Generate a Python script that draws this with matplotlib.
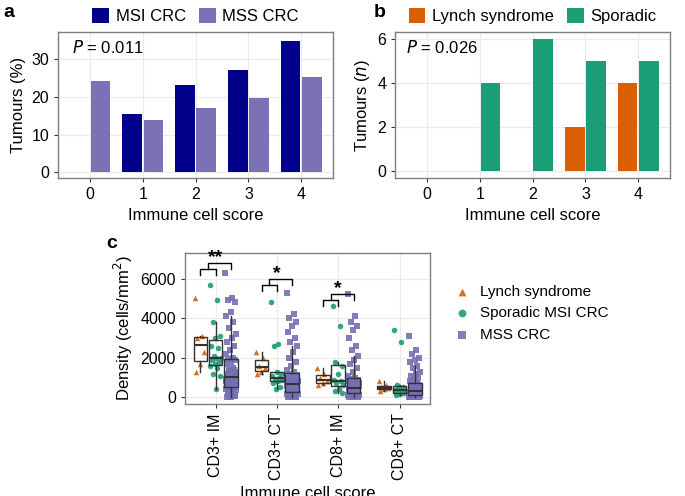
import matplotlib
matplotlib.use("Agg")
import matplotlib.pyplot as plt
import numpy as np

plt.rcParams['font.family'] = ['Liberation Sans', 'DejaVu Sans']

scores = [0, 1, 2, 3, 4]
msi_pct = [0, 15.4, 23.1, 26.9, 34.6]
mss_pct = [24.2, 13.9, 17.0, 19.7, 25.1]
lynch_n = [0, 0, 0, 2, 4]
sporadic_n = [0, 4, 6, 5, 5]

markers = ['CD3+ IM', 'CD3+ CT', 'CD8+ IM', 'CD8+ CT']
lynch_dens = [
    [5000, 3100, 3000, 2300, 1700, 1300],
    [2300, 2000, 1600, 1500, 1300, 1200],
    [1500, 1200, 1000, 800, 700, 600],
    [800, 600, 500, 450, 400, 300],
]
sporadic_dens = [
    [5700, 4900, 3800, 3100, 3000, 2600, 2500, 2100, 2000, 2000, 1900, 1800, 1700, 1600, 1500, 1200, 1100, 400],
    [4800, 2700, 2600, 1200, 1300, 1100, 1000, 900, 900, 800, 700, 500, 400],
    [4600, 3600, 1800, 1600, 1200, 900, 800, 700, 600, 400, 300, 200],
    [3400, 2800, 600, 500, 400, 350, 300, 250, 200, 150, 100],
]
mss_dens = [
    [6300, 5000, 4900, 4800, 4300, 4100, 3800, 3500, 3200, 3000, 2800, 2600, 2400, 2200, 2000, 1950, 1900, 1800,
     1700, 1400, 1350, 1300, 1250, 1200, 1100, 1000, 950, 900, 850, 800, 750, 700, 600, 500, 400, 300, 200, 100, 50, 20,
     1500, 1400, 1300, 1200, 1100, 1000, 900, 800, 700, 650, 600, 550, 500, 450, 400, 350, 250, 150, 80, 30],
    [5300, 4200, 4000, 3800, 3600, 3300, 3000, 2800, 2600, 2300, 2000, 1800, 1600, 1400, 1300, 1200, 1150, 1100,
     1000, 900, 850, 800, 750, 700, 650, 600, 550, 500, 450, 400, 350, 300, 250, 200, 150, 100, 50, 30, 10, 5,
     1100, 1000, 900, 850, 800, 700, 650, 600, 500, 450, 400, 350, 300, 250, 200, 150, 100, 80, 50, 20],
    [5200, 4100, 3800, 3600, 3400, 3000, 2600, 2400, 2100, 1900, 1700, 1500, 1300, 1100, 1000, 950, 900, 850,
     800, 650, 600, 550, 500, 480, 450, 420, 400, 380, 350, 300, 280, 250, 200, 150, 120, 100, 60, 30, 10, 5,
     900, 800, 700, 650, 600, 550, 500, 450, 400, 350, 300, 250, 200, 180, 150, 120, 100, 80, 50, 20],
    [3100, 2400, 2200, 2000, 1900, 1800, 1600, 1500, 1300, 1200, 1100, 1000, 900, 800, 700, 650, 600, 550,
     500, 400, 380, 350, 320, 300, 280, 250, 220, 200, 180, 150, 130, 100, 80, 60, 40, 30, 20, 10, 5, 2,
     700, 600, 500, 450, 400, 350, 300, 250, 200, 180, 150, 120, 100, 80, 60, 50, 40, 30, 20, 10],
]

c_msi = '#00008b'
c_mss = '#7b72b6'
c_ly = '#d95f02'
c_sp = '#1b9e77'
c_ms = '#7570b3'
grid_c = '#ebebeb'
frame_c = '#7f7f7f'

fig = plt.figure(figsize=(6.85, 4.96), dpi=100)

def style(ax):
    ax.set_facecolor('white')
    ax.grid(True, color=grid_c, lw=0.8)
    ax.set_axisbelow(True)
    for s in ax.spines.values():
        s.set_color(frame_c)
        s.set_linewidth(1.0)
    ax.tick_params(colors='#333333', labelsize=11.5, length=3, labelcolor='black')

# panel a
axa = fig.add_axes([0.085, 0.641, 0.401, 0.294])
style(axa)
x = np.arange(len(scores))
w = 0.4
axa.bar(x - w / 2, msi_pct, w * 0.92, color=c_msi, label='MSI CRC')
axa.bar(x + w / 2, mss_pct, w * 0.92, color=c_mss, label='MSS CRC')
axa.set_xticks(x, [str(s) for s in scores])
axa.set_yticks([0, 10, 20, 30])
axa.set_ylim(-1.5, 37)
axa.set_xlim(-0.6, 4.6)
axa.set_ylabel('Tumours (%)', fontsize=12)
axa.set_xlabel('Immune cell score', fontsize=12)
axa.text(0.05, 0.86, r'$P$ = 0.011', transform=axa.transAxes, fontsize=12)
axa.legend(loc='lower center', bbox_to_anchor=(0.5, 1.0), ncol=2, frameon=False, fontsize=12,
           handlelength=1.0, handleheight=1.0, columnspacing=0.8, handletextpad=0.4, borderaxespad=0.1)
fig.text(0.005, 0.965, 'a', fontsize=14, fontweight='bold')

# panel b
axb = fig.add_axes([0.577, 0.641, 0.401, 0.294])
style(axb)
axb.bar(x - w / 2, lynch_n, w * 0.92, color=c_ly, label='Lynch syndrome')
axb.bar(x + w / 2, sporadic_n, w * 0.92, color=c_sp, label='Sporadic')
axb.set_xticks(x, [str(s) for s in scores])
axb.set_yticks([0, 2, 4, 6])
axb.set_ylim(-0.3, 6.3)
axb.set_xlim(-0.6, 4.6)
axb.set_ylabel('Tumours ($n$)', fontsize=12)
axb.set_xlabel('Immune cell score', fontsize=12)
axb.text(0.04, 0.86, r'$P$ = 0.026', transform=axb.transAxes, fontsize=12)
axb.legend(loc='lower center', bbox_to_anchor=(0.5, 1.0), ncol=2, frameon=False, fontsize=12,
           handlelength=1.0, handleheight=1.0, columnspacing=0.8, handletextpad=0.4, borderaxespad=0.1)
fig.text(0.545, 0.965, 'b', fontsize=14, fontweight='bold')

# panel c
axc = fig.add_axes([0.27, 0.185, 0.358, 0.305])
style(axc)
offs = [-0.25, 0.0, 0.25]
groups = [lynch_dens, sporadic_dens, mss_dens]
cols = [c_ly, c_sp, c_ms]
mk = ['^', 'o', 's']
labels = ['Lynch syndrome', 'Sporadic MSI CRC', 'MSS CRC']
for gi, (g, col, m, lab) in enumerate(zip(groups, cols, mk, labels)):
    pos = [i + offs[gi] for i in range(len(markers))]
    for i, vals in enumerate(g):
        n = len(vals)
        jit = np.array([((k * 0.618034) % 1.0) - 0.5 for k in range(n)]) * 0.18
        axc.scatter(np.full(n, pos[i]) + jit, vals, s=16, marker=m, color=col, alpha=0.9, lw=0,
                    label=lab if i == 0 else None, zorder=2)
    axc.boxplot(g, positions=pos, widths=0.22, showfliers=False, patch_artist=True, zorder=3,
                boxprops=dict(facecolor='none', edgecolor='#333333', lw=1.0),
                medianprops=dict(color='#333333', lw=1.5),
                whiskerprops=dict(color='#333333', lw=1.0),
                capprops=dict(lw=0))
axc.set_xticks(range(len(markers)), markers, rotation=90)
axc.set_xlim(-0.5, 3.5)
axc.set_ylim(-350, 7300)
axc.set_yticks([0, 2000, 4000, 6000])
axc.set_ylabel('Density (cells/mm$^2$)', fontsize=12)
axc.set_xlabel('Immune cell score', fontsize=12)
for i, (y1, stars) in enumerate([(6500, '**'), (5700, '*'), (4900, '*')]):
    xl, xm, xr = i - 0.25, i, i + 0.25
    axc.plot([xl, xl, xm, xm], [y1 - 300, y1, y1, y1 - 300], color='black', lw=1)
    axc.plot([(xl + xm) / 2, (xl + xm) / 2, xr, xr], [y1, y1 + 300, y1 + 300, y1], color='black', lw=1)
    axc.text((xl + xm) / 2 + 0.12, y1 + 150, stars, ha='center', va='bottom', fontsize=14, fontweight='bold')
axc.legend(loc='center left', bbox_to_anchor=(1.01, 0.6), frameon=False, fontsize=11,
           handletextpad=0.2, markerscale=1.4)
fig.text(0.155, 0.5, 'c', fontsize=14, fontweight='bold')

fig.savefig('out.png', dpi=100)
